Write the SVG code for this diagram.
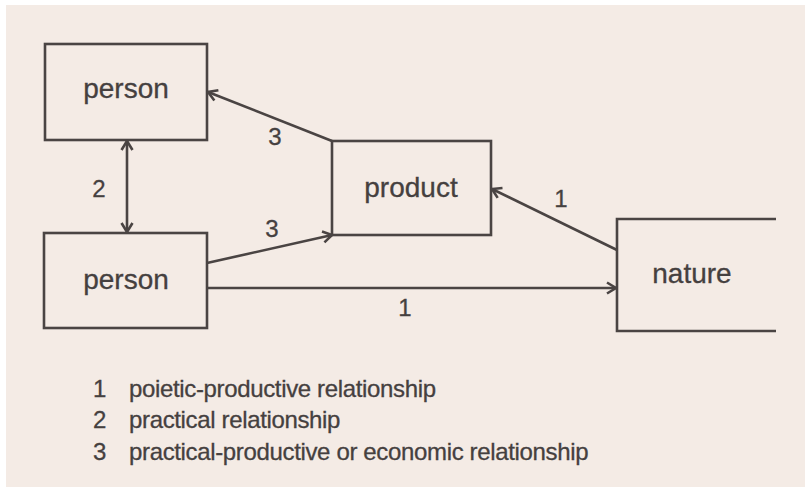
<svg xmlns="http://www.w3.org/2000/svg" width="805" height="487" viewBox="0 0 805 487">
<defs>
<style>
.box{fill:none;stroke:#4a4443;stroke-width:2.6}
.ln{fill:none;stroke:#4a4443;stroke-width:2.6}
.t{font-family:"Liberation Sans",Arial,sans-serif;fill:#45403f;stroke:#45403f;stroke-width:0.3}
.lbl{font-size:24px;text-anchor:middle}
.node{font-size:28px;text-anchor:middle}
.leg{font-size:24px;letter-spacing:-0.35px}
</style>
<marker id="ah" viewBox="0 0 14 14" refX="12" refY="7" markerWidth="14" markerHeight="14" markerUnits="userSpaceOnUse" orient="auto-start-reverse">
<path d="M3,1.5 L12,7 L3,12.5" fill="none" stroke="#4a4443" stroke-width="2.6"/>
</marker>
</defs>
<rect x="0" y="0" width="805" height="487" fill="#ffffff"/>
<rect x="6" y="5" width="799" height="482" fill="#f4ebe5"/>
<g id="person-top">
<rect class="box" x="45" y="44" width="162" height="96"/>
<text class="t node" x="126" y="98">person</text>
</g>
<g id="person-bottom">
<rect class="box" x="44" y="233" width="163" height="95"/>
<text class="t node" x="126" y="289">person</text>
</g>
<g id="product">
<rect class="box" x="332" y="141" width="159" height="94"/>
<text class="t node" x="411" y="197">product</text>
</g>
<g id="nature">
<path class="box" d="M776,219 H617 V331 H776"/>
<text class="t node" x="692" y="283">nature</text>
</g>
<g id="connectors">
<line class="ln" x1="127" y1="141" x2="127" y2="232" marker-start="url(#ah)" marker-end="url(#ah)"/>
<line class="ln" x1="332" y1="141" x2="208" y2="92" marker-end="url(#ah)"/>
<line class="ln" x1="207" y1="263" x2="332" y2="235" marker-end="url(#ah)"/>
<line class="ln" x1="207" y1="288" x2="616" y2="288" marker-end="url(#ah)"/>
<line class="ln" x1="617" y1="250" x2="492" y2="189" marker-end="url(#ah)"/>
<text class="t lbl" x="99" y="197">2</text>
<text class="t lbl" x="275" y="145">3</text>
<text class="t lbl" x="272" y="237">3</text>
<text class="t lbl" x="405" y="316">1</text>
<text class="t lbl" x="561" y="207">1</text>
</g>
<g id="legend">
<text class="t leg" x="93" y="397">1</text>
<text class="t leg" x="129" y="397">poietic-productive relationship</text>
<text class="t leg" x="93" y="428">2</text>
<text class="t leg" x="129" y="428">practical relationship</text>
<text class="t leg" x="93" y="460">3</text>
<text class="t leg" x="129" y="460">practical-productive or economic relationship</text>
</g>
</svg>
